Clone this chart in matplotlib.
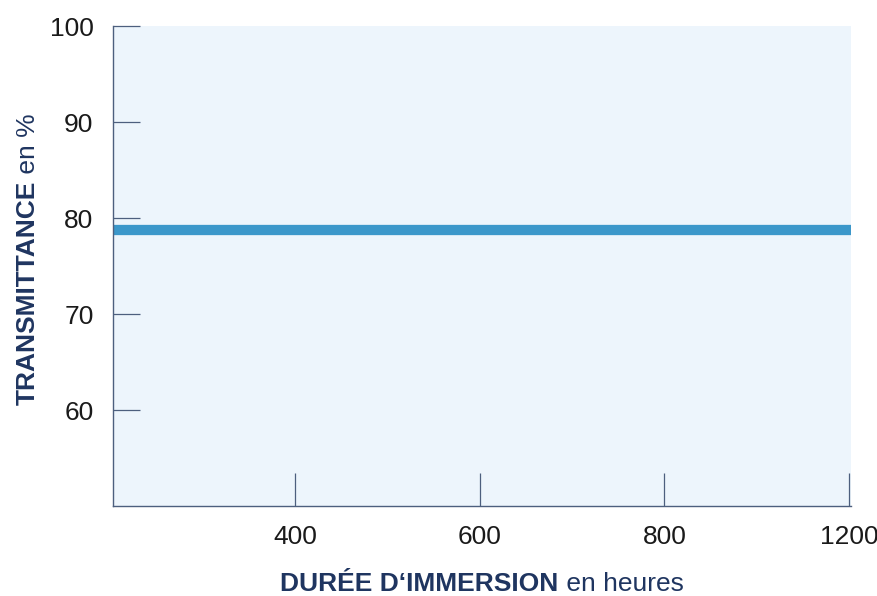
import matplotlib
matplotlib.use("Agg")
import matplotlib.pyplot as plt

# data
hours = [203, 1002]
transmittance = [78.7, 78.7]
x_ticks = [400, 600, 800, 1000]
x_tick_labels = ["400", "600", "800", "1200"]
y_ticks = [60, 70, 80, 90, 100]

navy = "#1f3560"
spine = "#4d5f7e"
plt.rcParams["font.family"] = ["Liberation Sans", "DejaVu Sans"]

fig = plt.figure(figsize=(8.77, 5.96), dpi=100)
ax = fig.add_axes([113 / 877, 90 / 596, (851 - 113) / 877, (506 - 26) / 596])
ax.set_facecolor("#edf5fc")

ax.plot(hours, transmittance, color="#3b97ca", lw=7.4, solid_capstyle="butt")

ax.set_xlim(203, 1002)
ax.set_ylim(50, 100)
ax.set_xticks(x_ticks)
ax.set_xticklabels(x_tick_labels)
ax.set_yticks(y_ticks)

for s in ["top", "right"]:
    ax.spines[s].set_visible(False)
for s in ["left", "bottom"]:
    ax.spines[s].set_color(spine)
    ax.spines[s].set_linewidth(1.0)

ax.tick_params(axis="y", direction="in", length=19.5, width=0.9, color=spine,
               pad=14, labelsize=19, labelcolor="#1a1a1a")
ax.tick_params(axis="x", direction="in", length=24, width=0.9, color=spine,
               pad=14, labelsize=19, labelcolor="#1a1a1a")

# axis titles: bold part + regular part
fig.canvas.draw()
r = fig.canvas.get_renderer()

fs = 19
xb = fig.text(0, 0, "DURÉE D\u2018IMMERSION", fontsize=fs, fontweight="bold",
              color=navy, ha="left", va="baseline")
xr = fig.text(0, 0, " en heures", fontsize=fs, color=navy,
              ha="left", va="baseline")
wb = xb.get_window_extent(r).width
wr = xr.get_window_extent(r).width
x0 = (113 + 851) / 2 - (wb + wr) / 2
ybase = 596 - 591
xb.set_position((x0 / 877, ybase / 596))
xr.set_position(((x0 + wb) / 877, ybase / 596))

yb = fig.text(0, 0, "TRANSMITTANCE", fontsize=fs, fontweight="bold",
              color=navy, rotation=90, rotation_mode="anchor",
              ha="left", va="baseline")
yr = fig.text(0, 0, " en %", fontsize=fs, color=navy, rotation=90,
              rotation_mode="anchor", ha="left", va="baseline")
hb = yb.get_window_extent(r).height
hr = yr.get_window_extent(r).height
y0 = (596 - 259) - (hb + hr) / 2
xline = 35
yb.set_position((xline / 877, y0 / 596))
yr.set_position((xline / 877, (y0 + hb) / 596))

fig.savefig("out.png", dpi=100)
